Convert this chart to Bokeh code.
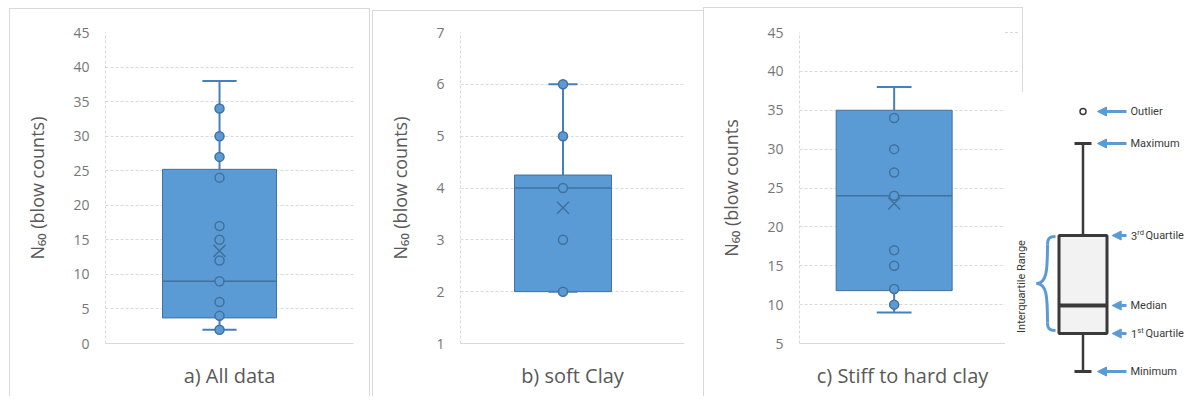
import math
from bokeh.plotting import figure
from bokeh.models import Range1d, FixedTicker, Arrow, NormalHead
from bokeh.layouts import row, column
from bokeh.embed import file_html
from bokeh.resources import INLINE
from bokeh.core.properties import value

# ---------------- data ----------------
PANEL_TITLES = ["a) All data", "b) soft Clay", "c) Stiff to hard clay"]
Y_TITLES = ["N\u2086\u2080 (blow counts)", "N\u2086\u2080 (blow counts)", "N\u2086\u2080 (blow counts"]
LOWER_WHISKER = [2, 2, 9]
Q1 = [3.7, 2.0, 11.8]
MEDIAN = [9, 4, 24]
Q3 = [25.2, 4.25, 35]
UPPER_WHISKER = [38, 6, 38]
MEAN = [13.4, 3.62, 23.0]
POINTS_A = [34, 30, 27, 24, 17, 15, 12, 9, 6, 4, 2]
POINTS_B = [6, 5, 4, 3, 2]
POINTS_C = [34, 30, 27, 24, 17, 15, 12, 10]
Y_RANGES = [(0, 45), (1, 7), (5, 45)]
Y_TICKS = [list(range(0, 46, 5)), list(range(1, 8)), list(range(5, 46, 5))]

# schematic legend (explanatory diagram)
LEGEND_LABELS = ["Outlier", "Maximum", "3rd Quartile", "Median", "1st Quartile", "Minimum"]
LEGEND_Y = [285, 253, 161, 91, 63, 25]
IQR_TEXT = "Interquartile Range"

FONT = "Open Sans"
LFONT = "Roboto"
BOX_FILL = "#5B9BD5"
BOX_LINE = "#41719C"
WHISK = "#4580BD"
GRID = "#d9d9d9"
TICK_TXT = "#767676"
LABEL_TXT = "#595959"
H = 396


def panel(i, points, width, mbl, mbr, xr, shadow):
    p = figure(width=width, height=H, x_range=Range1d(*xr), y_range=Range1d(*Y_RANGES[i]),
               output_backend="svg", toolbar_location=None,
               min_border_left=mbl, min_border_right=mbr, min_border_top=32, min_border_bottom=53,
               background_fill_color=None, border_fill_color=None, outline_line_color=None,
               styles={"box-shadow": shadow})
    p.xgrid.visible = False
    p.ygrid.ticker = FixedTicker(ticks=Y_TICKS[i])
    p.ygrid.grid_line_color = GRID
    p.ygrid.grid_line_dash = "3 2"
    ya = p.yaxis[0]
    ya.ticker = FixedTicker(ticks=Y_TICKS[i])
    ya.major_tick_line_color = None
    ya.minor_tick_line_color = None
    ya.major_tick_out = 0
    ya.major_tick_in = 0
    ya.major_label_standoff = 16
    ya.major_label_text_font = FONT
    ya.major_label_text_font_size = "14px"
    ya.major_label_text_color = TICK_TXT
    ya.axis_line_color = GRID
    ya.axis_line_dash = "3 2"
    ya.axis_label = Y_TITLES[i]
    ya.axis_label_text_font = FONT
    ya.axis_label_text_font_size = "18px"
    ya.axis_label_text_font_style = "normal"
    ya.axis_label_text_color = LABEL_TXT
    ya.axis_label_standoff = 21
    xa = p.xaxis[0]
    xa.ticker = FixedTicker(ticks=[])
    xa.major_tick_line_color = None
    xa.minor_tick_line_color = None
    xa.axis_line_color = GRID
    xa.axis_label = PANEL_TITLES[i]
    xa.axis_label_text_font = FONT
    xa.axis_label_text_font_size = "20px"
    xa.axis_label_text_font_style = "normal"
    xa.axis_label_text_color = LABEL_TXT
    xa.axis_label_standoff = 18

    hw, cw = 0.5, 0.15
    p.quad(left=[-hw], right=[hw], bottom=[Q1[i]], top=[Q3[i]],
           fill_color=BOX_FILL, line_color=BOX_LINE, line_width=1)
    p.segment(x0=[0, 0], y0=[Q3[i], Q1[i]], x1=[0, 0], y1=[UPPER_WHISKER[i], LOWER_WHISKER[i]],
              line_color=WHISK, line_width=2)
    p.segment(x0=[-cw, -cw], y0=[UPPER_WHISKER[i], LOWER_WHISKER[i]],
              x1=[cw, cw], y1=[UPPER_WHISKER[i], LOWER_WHISKER[i]],
              line_color=WHISK, line_width=2)
    p.segment(x0=[-hw], y0=[MEDIAN[i]], x1=[hw], y1=[MEDIAN[i]], line_color=BOX_LINE, line_width=1.5)
    p.scatter(x=[0] * len(points), y=points, marker="circle", size=9,
              fill_color=BOX_FILL, line_color=BOX_LINE, line_width=1.5)
    p.scatter(x=[0], y=[MEAN[i]], marker="x", size=17, line_color=BOX_LINE, line_width=1.5)
    return p


B = "#d9d9d9"
W = "#ffffff"
pa = panel(0, POINTS_A, 371, 105, 18, (-1.0, 1.175),
           f"inset 9px 8px 0 0 {W}, inset -1px 0 0 0 {W}, inset 10px 9px 0 0 {B}, inset -2px 0 0 0 {B}")
pb = panel(1, POINTS_B, 332, 89, 19, (-1.057, 1.253),
           f"inset 1px 10px 0 0 {W}, inset 2px 11px 0 0 {B}")
pc = panel(2, POINTS_C, 302, 96, 0, (-0.816, 0.96),
           f"inset 0 7px 0 0 {W}, inset 1px 8px 0 0 {B}")

# ---------------- legend diagram ----------------
LW = 184
lg = figure(width=LW, height=H, x_range=Range1d(0, LW), y_range=Range1d(0, H),
            output_backend="svg", toolbar_location=None, title=None,
            min_border_left=0, min_border_right=0, min_border_top=0, min_border_bottom=0,
            x_axis_type=None, y_axis_type=None, outline_line_color=None,
            background_fill_color=None, border_fill_color=None,
            styles={"background":
                    f"linear-gradient({W},{W}) 0 92px / 100% 100% no-repeat, "
                    f"linear-gradient({B},{B}) 0 7px / 18px 1px no-repeat, "
                    f"linear-gradient({B},{B}) 17px 7px / 1px 85px no-repeat, "
                    f"repeating-linear-gradient(90deg,{B} 0 3px,transparent 3px 5px) 0 32px / 15px 1px no-repeat, "
                    f"repeating-linear-gradient(90deg,{B} 0 3px,transparent 3px 5px) 0 71px / 15px 1px no-repeat, "
                    f"{W}"})
lg.grid.visible = False
DARK = "#3a3a3a"
ARROW = "#5B9BD5"
yo, ymax, yq3, ymed, yq1, ymin = LEGEND_Y
cx, bhw, chw = 77.5, 24, 8.5
lg.quad(left=[cx - bhw], right=[cx + bhw], bottom=[yq1], top=[yq3],
        fill_color="#f2f2f2", line_color=DARK, line_width=3)
lg.segment(x0=[cx, cx], y0=[yq3, yq1], x1=[cx, cx], y1=[ymax, ymin], line_color=DARK, line_width=2.5)
lg.segment(x0=[cx - chw, cx - chw], y0=[ymax, ymin], x1=[cx + chw, cx + chw], y1=[ymax, ymin],
           line_color=DARK, line_width=3)
lg.segment(x0=[cx - bhw], y0=[ymed], x1=[cx + bhw], y1=[ymed], line_color=DARK, line_width=4)
lg.scatter(x=[cx], y=[yo], marker="circle", size=6, fill_color="white", line_color=DARK, line_width=1.5)

for lab, yv in zip(LEGEND_LABELS, LEGEND_Y):
    short = lab[1:3] in ("rd", "st") or lab == "Median"
    tip = 106.7 if short else 92
    lg.add_layout(Arrow(end=NormalHead(size=9, fill_color=ARROW, line_color=ARROW),
                        x_start=121, y_start=yv, x_end=tip, y_end=yv,
                        line_color=ARROW, line_width=3))

mx, my, mt, sx, sy, st = [], [], [], [], [], []
for lab, yv in zip(LEGEND_LABELS, LEGEND_Y):
    if lab[1:3] in ("rd", "st"):
        mx += [125.5, 140]
        my += [yv, yv]
        mt += [lab[0], lab[4:]]
        sx.append(131.8)
        sy.append(yv + 3)
        st.append(lab[1:3])
    else:
        mx.append(125)
        my.append(yv)
        mt.append(lab)
lg.text(x=mx, y=my, text=mt, text_font=value(LFONT), text_font_size="11px",
        text_color=DARK, text_baseline="middle", text_align="left")
lg.text(x=sx, y=sy, text=st, text_font=value(LFONT), text_font_size="7.5px",
        text_color=DARK, text_baseline="middle", text_align="left")

# curly brace for the interquartile range
top_b, bot_b = yq3 - 1, yq1 + 3
mid_b = (top_b + bot_b) / 2
xe, xv, xt = 50, 42, 31
lg.bezier(x0=[xe, xv, xt, xv], y0=[top_b, top_b - 8, mid_b, bot_b + 8],
          x1=[xv, xt, xv, xe], y1=[top_b - 8, mid_b, bot_b + 8, bot_b],
          cx0=[xv + 2, xv, xv - 1, xv], cy0=[top_b, mid_b + 12, mid_b, bot_b + 2],
          cx1=[xv, xv - 1, xv, xv + 2], cy1=[top_b - 2, mid_b, mid_b - 12, bot_b],
          line_color=ARROW, line_width=3)
lg.text(x=[15.7], y=[mid_b - 3], text=[IQR_TEXT], angle=math.pi / 2, text_font=value(LFONT),
        text_font_size="11px", text_color=DARK, text_align="center", text_baseline="middle")

layout = row(pa, pb, pc, column(lg))
open("out.html", "w").write(file_html(layout, INLINE))
